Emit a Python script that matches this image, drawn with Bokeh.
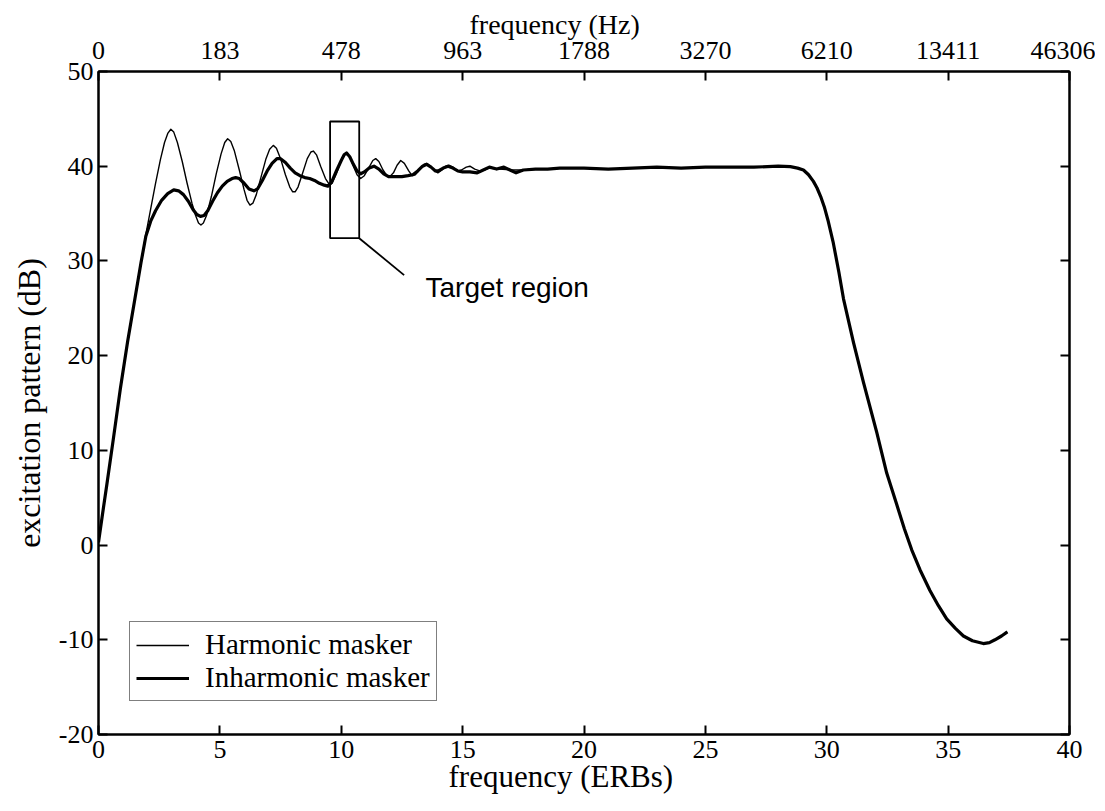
from bokeh.plotting import figure
from bokeh.models import Range1d, LinearAxis, FixedTicker, Legend, LegendItem, Label, Title
from bokeh.embed import file_html
from bokeh.resources import INLINE

# ---------------- data ----------------
erb_ticks = [0, 5, 10, 15, 20, 25, 30, 35, 40]
hz_labels = ["0", "183", "478", "963", "1788", "3270", "6210", "13411", "46306"]
db_ticks = [-20, -10, 0, 10, 20, 30, 40, 50]
db_labels = ["-20", "-10", "0", "10", "20", "30", "40", "50"]

harm_x = [0, 0.15, 0.35, 0.6, 0.9, 1.2, 1.5, 1.75, 1.95, 2.15, 2.35, 2.55, 2.72, 2.86, 2.98,
          3.1, 3.25, 3.45, 3.65, 3.85, 4.0, 4.12, 4.22, 4.32, 4.45, 4.65, 4.85, 5.05, 5.2,
          5.32, 5.45, 5.6, 5.8, 6.0, 6.12, 6.24, 6.36, 6.5, 6.7, 6.9, 7.05, 7.2, 7.33, 7.5,
          7.7, 7.88, 8.0, 8.1, 8.22, 8.4, 8.6, 8.75, 8.85, 8.98, 9.15, 9.35, 9.5, 9.62, 9.8,
          10.0, 10.12, 10.22, 10.35, 10.5, 10.65, 10.8, 10.95, 11.15, 11.3, 11.42, 11.55,
          11.72, 11.88, 12.0, 12.15, 12.3, 12.45, 12.6, 12.78, 12.92, 13.05, 13.25, 13.4,
          13.52, 13.68, 13.85, 13.98, 14.15, 14.3, 14.45, 14.6, 14.8, 14.95, 15.15, 15.3,
          15.5, 15.7, 15.9, 16.1, 16.5, 17.0, 17.5, 18.0]
harm_y = [0.3, 3, 6.5, 11, 16.5, 21.5, 26, 29.8, 32.8, 35.5, 38.2, 40.7, 42.5, 43.5, 43.9,
          43.6, 42.5, 40.5, 38.2, 36.1, 34.8, 34.0, 33.8, 34.0, 34.8, 36.8, 39.2, 41.3, 42.5,
          42.9, 42.6, 41.6, 39.6, 37.5, 36.4, 35.9, 36.1, 37.0, 38.9, 40.8, 41.8, 42.2, 41.9,
          40.8, 39.1, 37.8, 37.3, 37.3, 37.8, 39.2, 40.8, 41.5, 41.6, 41.2, 40.0, 38.7, 38.1,
          38.2, 39.2, 40.6, 41.2, 41.4, 41.0, 40.0, 39.1, 38.7, 39.0, 39.9, 40.6, 40.8, 40.5,
          39.6, 39.0, 38.9, 39.3, 40.1, 40.6, 40.3, 39.5, 39.0, 39.1, 39.7, 40.2,
          40.3, 40.0, 39.5, 39.3, 39.6, 40.0, 40.1, 39.9, 39.5, 39.6, 39.9, 40.0,
          39.7, 39.5, 39.6, 39.8, 39.7, 39.6, 39.6, 39.7]

inh_x = [0, 0.15, 0.35, 0.6, 0.9, 1.2, 1.5, 1.75, 1.95, 2.15, 2.35, 2.6, 2.85, 3.1, 3.3, 3.5,
         3.7, 3.9, 4.05, 4.2, 4.35, 4.5, 4.7, 4.9, 5.1, 5.3, 5.5, 5.65, 5.8, 6.0, 6.2, 6.4,
         6.55, 6.75, 6.95, 7.15, 7.35, 7.5, 7.7, 7.9, 8.1, 8.3, 8.5, 8.7, 8.9, 9.1, 9.3,
         9.45, 9.6, 9.8, 10.0, 10.12, 10.22, 10.35, 10.5, 10.65, 10.8, 10.95, 11.15, 11.35,
         11.55, 11.75, 11.95, 12.2, 12.5, 12.75, 12.95, 13.15, 13.35, 13.52, 13.7, 13.88,
         14.0, 14.2, 14.4, 14.6, 14.8, 15.0, 15.3, 15.6, 15.85, 16.1, 16.4, 16.7, 16.95,
         17.2, 17.5, 18.0]
inh_y = [0.3, 3, 6.5, 11, 16.5, 21.5, 26, 29.8, 32.6, 34.2, 35.3, 36.4, 37.1, 37.5, 37.4, 37.0,
         36.3, 35.4, 34.9, 34.7, 34.8, 35.3, 36.3, 37.2, 37.9, 38.4, 38.7, 38.8, 38.7, 38.2,
         37.6, 37.4, 37.6, 38.5, 39.5, 40.3, 40.8, 40.8, 40.4, 39.8, 39.3, 39.0, 38.8, 38.7,
         38.5, 38.2, 38.0, 37.9, 38.3, 39.5, 40.6, 41.2, 41.4, 41.0, 40.2, 39.5, 39.2, 39.4,
         39.8, 40.0, 39.7, 39.2, 38.9, 38.9, 38.9, 39.0, 39.1, 39.5, 40.0, 40.2, 39.9, 39.5,
         39.5, 39.8, 40.0, 39.8, 39.5, 39.4, 39.4, 39.3, 39.6, 39.9, 39.7, 39.9, 39.6,
         39.3, 39.6, 39.7]

# common part of both patterns (the two curves coincide above ~18 ERBs)
tail_x = [18.5, 19.0, 20.0, 21.0, 22.0, 23.0, 24.0, 25.0, 26.0, 27.0, 28.0, 28.5, 28.8,
          29.04, 29.25, 29.45, 29.6, 29.75, 29.9, 30.05, 30.27, 30.5, 30.69, 31.1, 31.51,
          32.06, 32.47, 32.88, 33.2, 33.5, 33.84, 34.25, 34.6, 34.94, 35.3, 35.63, 36.0,
          36.45, 36.7, 36.93, 37.2, 37.44]
tail_y = [39.7, 39.8, 39.8, 39.7, 39.8, 39.9, 39.8, 39.9, 39.9, 39.9, 40.0, 39.95, 39.8,
          39.6, 39.1, 38.4, 37.7, 36.8, 35.7, 34.3, 31.9, 28.8, 26.0, 21.4, 17.2,
          11.9, 7.6, 4.3, 1.7, -0.5, -2.6, -4.8, -6.4, -7.8, -8.8, -9.6, -10.1,
          -10.4, -10.3, -10.0, -9.6, -9.17]

target_box = dict(left=9.54, right=10.74, bottom=32.4, top=44.72)
target_line_x = [10.74, 12.59]
target_line_y = [32.4, 28.5]
target_text = "Target region"
x_title = "frequency (ERBs)"
top_title = "frequency (Hz)"
y_title = "excitation pattern (dB)"

# ---------------- figure ----------------
SERIF = "Liberation Serif"
p = figure(frame_width=971, frame_height=663,
           x_range=Range1d(0, 40), y_range=Range1d(-20, 50),
           output_backend="svg", toolbar_location=None,
           min_border_left=93, min_border_top=71, min_border_right=26, min_border_bottom=61,
           background_fill_color="white", border_fill_color="white")
p.grid.visible = False
p.outline_line_color = "black"
p.outline_line_width = 2


def style_axis(ax, size="26px"):
    ax.axis_line_width = 2
    ax.axis_line_color = "black"
    ax.major_tick_in = 9
    ax.major_tick_out = 0
    ax.major_tick_line_width = 2
    ax.minor_tick_line_color = None
    ax.major_label_text_font = SERIF
    ax.major_label_text_font_size = size
    ax.major_label_text_color = "black"


xa = p.xaxis[0]
xa.ticker = FixedTicker(ticks=erb_ticks)
style_axis(xa)
xa.major_label_standoff = 6

ya = p.yaxis[0]
ya.ticker = FixedTicker(ticks=db_ticks)
ya.major_label_overrides = {t: l for t, l in zip(db_ticks, db_labels)}
style_axis(ya)
ya.major_label_standoff = 5

top = LinearAxis(ticker=FixedTicker(ticks=erb_ticks),
                 major_label_overrides={t: l for t, l in zip(erb_ticks, hz_labels)})
style_axis(top)
top.major_label_standoff = 13
p.add_layout(top, "above")

right = LinearAxis(ticker=FixedTicker(ticks=db_ticks),
                   major_label_overrides={t: "" for t in db_ticks})
style_axis(right)
right.major_label_standoff = 0
p.add_layout(right, "right")


def make_title(text, size, align, offset, standoff):
    return Title(text=text, align=align, offset=offset, standoff=standoff,
                 text_font=SERIF, text_font_size=size, text_font_style="normal",
                 text_color="black")


p.add_layout(make_title(x_title, "31px", "left", 350, -8), "below")
p.add_layout(make_title(top_title, "28px", "left", 371, -2), "above")
p.add_layout(make_title(y_title, "32px", "center", 0, 17), "left")

# curves
r_h = p.line(harm_x + tail_x, harm_y + tail_y, line_color="black", line_width=1.4,
             line_join="round")
r_i = p.line(inh_x + tail_x, inh_y + tail_y, line_color="black", line_width=3.2,
             line_join="round")

# target region
p.quad(left=[target_box["left"]], right=[target_box["right"]],
       bottom=[target_box["bottom"]], top=[target_box["top"]],
       fill_color=None, line_color="black", line_width=1.8)
p.line(target_line_x, target_line_y, line_color="black", line_width=1.8)
p.add_layout(Label(x=13.47, y=27.2, text=target_text,
                   text_font="Liberation Sans", text_font_size="28px",
                   text_baseline="alphabetic", text_align="left", text_color="black"))

legend = Legend(items=[LegendItem(label="Harmonic masker", renderers=[r_h]),
                       LegendItem(label="Inharmonic masker", renderers=[r_i])],
                location=(31, 33))
legend.label_text_font = SERIF
legend.label_text_font_size = "29px"
legend.label_text_color = "black"
legend.glyph_width = 53
legend.glyph_height = 30
legend.label_height = 30
legend.label_standoff = 16
legend.spacing = 0
legend.padding = 6
legend.margin = 0
legend.border_line_color = "black"
legend.border_line_width = 1.5
legend.background_fill_alpha = 1.0
p.add_layout(legend, "center")

open("out.html", "w").write(file_html(p, INLINE))
